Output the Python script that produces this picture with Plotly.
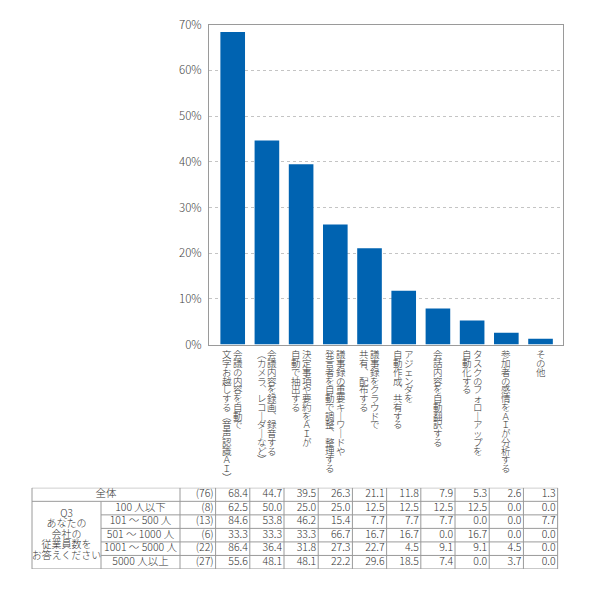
import plotly.graph_objects as go

# 棒グラフ（全体）
labels = [
    ["会議の内容を自動で", "文字お越しする（音声認識ＡＩ）"],
    ["会議内容を録画、録音する", "（カメラ、レコーダーなど）"],
    ["決定事項や要約をＡＩが", "自動で抽出する"],
    ["議事録の重要キーワードや", "発言者を自動で調整、整理する"],
    ["議事録をクラウドで", "共有、配布する"],
    ["アジェンダを", "自動作成、共有する"],
    ["会話内容を自動翻訳する"],
    ["タスクのフォローアップを", "自動化する"],
    ["参加者の感情をＡＩが分析する"],
    ["その他"],
]
total = [68.4, 44.7, 39.5, 26.3, 21.1, 11.8, 7.9, 5.3, 2.6, 1.3]
y_ticks = [0, 10, 20, 30, 40, 50, 60, 70]

# 表
row_names = ["全体", "100 人以下", "101 ～ 500 人", "501 ～ 1000 人", "1001 ～ 5000 人", "5000 人以上"]
row_n = [76, 8, 13, 6, 22, 27]
row_values = [
    [68.4, 44.7, 39.5, 26.3, 21.1, 11.8, 7.9, 5.3, 2.6, 1.3],
    [62.5, 50.0, 25.0, 25.0, 12.5, 12.5, 12.5, 12.5, 0.0, 0.0],
    [84.6, 53.8, 46.2, 15.4, 7.7, 7.7, 7.7, 0.0, 0.0, 7.7],
    [33.3, 33.3, 33.3, 66.7, 16.7, 16.7, 0.0, 16.7, 0.0, 0.0],
    [86.4, 36.4, 31.8, 27.3, 22.7, 4.5, 9.1, 9.1, 4.5, 0.0],
    [55.6, 48.1, 48.1, 22.2, 29.6, 18.5, 7.4, 0.0, 3.7, 0.0],
]
group_lines = ["Q3", "あなたの", "会社の", "従業員数を", "お答えください"]

OFF = 8  # page body margin
W, H = 574, 574
FONT = "Noto Sans CJK JP"
TXT = "#333333"
LINE = "#9a9a9a"
BLUE = "#0063b1"
WT = 300


def fx(p):  # page pixel -> paper x
    return (p - OFF) / W


def fy(p):  # page pixel -> paper y
    return 1 - (p - OFF) / H


# plot area in page pixels
px_left, px_right, px_top, px_bottom = 209, 563, 16, 345
x_range = [-0.693, 9.657]
unit = (px_right - px_left) / (x_range[1] - x_range[0])

# second x axis spans whole figure with same scale as bar axis
x2_range = [x_range[0] - (px_left - OFF) / unit, x_range[1] + (W + OFF - px_right) / unit]


def px2x(p):
    return x2_range[0] + (p - OFF) / unit


xs = list(range(len(total)))

fig = go.Figure()
fig.add_trace(go.Bar(x=xs, y=total, width=0.72, marker=dict(color=BLUE, line=dict(width=0)),
                     xaxis="x", yaxis="y", hoverinfo="skip"))

# vertical labels, one char per annotation
vmap = {"（": "︵", "）": "︶", "、": "︑", "ー": "｜"}
pitch = 9.0
first_y = 355
for i, cols in enumerate(labels):
    if len(cols) == 1:
        offs = [0]
    else:
        offs = [5.4, -5.4]
    for col, off in zip(cols, offs):
        for k, ch in enumerate(col):
            ypx = first_y + k * pitch
            fig.add_annotation(x=i, xref="x", xshift=off, y=fy(ypx), yref="paper",
                               text=vmap.get(ch, ch), showarrow=False, xanchor="center",
                               yanchor="middle", borderpad=0,
                               font=dict(size=9.5, color=TXT, family=FONT, weight=WT))

# table geometry (x2 units, y2 rows)
tbl_top, tbl_bottom = 492.3, 575.8
x_left = px2x(32)
x_grp = px2x(101)
x_n = px2x(180)
n_rows = len(row_names)

shapes = []


def hline(y, x0, x1):
    shapes.append(dict(type="line", xref="x2", yref="y2", x0=x0, x1=x1, y0=y, y1=y,
                       line=dict(color=LINE, width=1)))


def vline(x, y0, y1):
    shapes.append(dict(type="line", xref="x2", yref="y2", x0=x, x1=x, y0=y0, y1=y1,
                       line=dict(color=LINE, width=1)))


hline(0, x_left, len(total) - 0.5)
hline(1, x_left, len(total) - 0.5)
for r in range(2, n_rows):
    hline(r, x_grp, len(total) - 0.5)
hline(n_rows, x_left, len(total) - 0.5)
vline(x_left, 0, n_rows)
vline(x_grp, 1, n_rows)
vline(x_n, 0, n_rows)
for j in range(len(total) + 1):
    vline(j - 0.5, 0, n_rows)

tfont = dict(size=10.5, color=TXT, family=FONT, weight=WT)

# row names
name_x = [(x_left + x_n) / 2] + [(x_grp + x_n) / 2] * (n_rows - 1)
fig.add_trace(go.Scatter(x=name_x, y=[r + 0.5 for r in range(n_rows)], text=row_names,
                         mode="text", textposition="middle center", xaxis="x2", yaxis="y2",
                         textfont=tfont, hoverinfo="skip"))

# group label
g_pitch = 0.78
fig.add_trace(go.Scatter(x=[(x_left + x_grp) / 2] * len(group_lines),
                         y=[3.5 + (k - 2) * g_pitch for k in range(len(group_lines))],
                         text=group_lines, mode="text", textposition="middle center",
                         xaxis="x2", yaxis="y2",
                         textfont=dict(size=10, color=TXT, family=FONT, weight=WT),
                         hoverinfo="skip"))

# n
pad = 2 / unit
fig.add_trace(go.Scatter(x=[-0.5 - pad] * n_rows, y=[r + 0.5 for r in range(n_rows)],
                         text=[f"({n})" for n in row_n], mode="text", textposition="middle left",
                         xaxis="x2", yaxis="y2", textfont=tfont, hoverinfo="skip"))

# values
vx, vy, vt = [], [], []
for r, vals in enumerate(row_values):
    for j, v in enumerate(vals):
        vx.append(j + 0.5 - pad)
        vy.append(r + 0.5)
        vt.append(f"{v:.1f}")
fig.add_trace(go.Scatter(x=vx, y=vy, text=vt, mode="text", textposition="middle left",
                         xaxis="x2", yaxis="y2", textfont=tfont, hoverinfo="skip"))

fig.update_layout(
    width=W, height=H,
    margin=dict(l=0, r=0, t=0, b=0),
    paper_bgcolor="white", plot_bgcolor="white",
    showlegend=False,
    font=dict(family=FONT, color=TXT),
    shapes=shapes,
    xaxis=dict(domain=[fx(px_left), fx(px_right)], range=x_range, showticklabels=False,
               showgrid=False, zeroline=False, ticks="", showline=True, linecolor=LINE,
               linewidth=1, mirror=True, fixedrange=True),
    yaxis=dict(domain=[fy(px_bottom), fy(px_top)], range=[0, 70], tickmode="array",
               tickvals=y_ticks, ticktext=[f"{v}%" for v in y_ticks],
               ticklabeloverflow="allow",
               showgrid=True, gridcolor="#c4c4c4", griddash="dot",
               gridwidth=1, zeroline=False, showline=True, linecolor=LINE, linewidth=1,
               mirror=True, ticks="", ticklabelstandoff=4,
               tickfont=dict(size=11.5, color="#444444", family=FONT, weight=WT),
               fixedrange=True),
    xaxis2=dict(domain=[0, 1], range=x2_range, visible=False, fixedrange=True),
    yaxis2=dict(domain=[fy(tbl_bottom), fy(tbl_top)], range=[n_rows, 0],
                visible=False, fixedrange=True),
)

fig.write_html("out.html")
